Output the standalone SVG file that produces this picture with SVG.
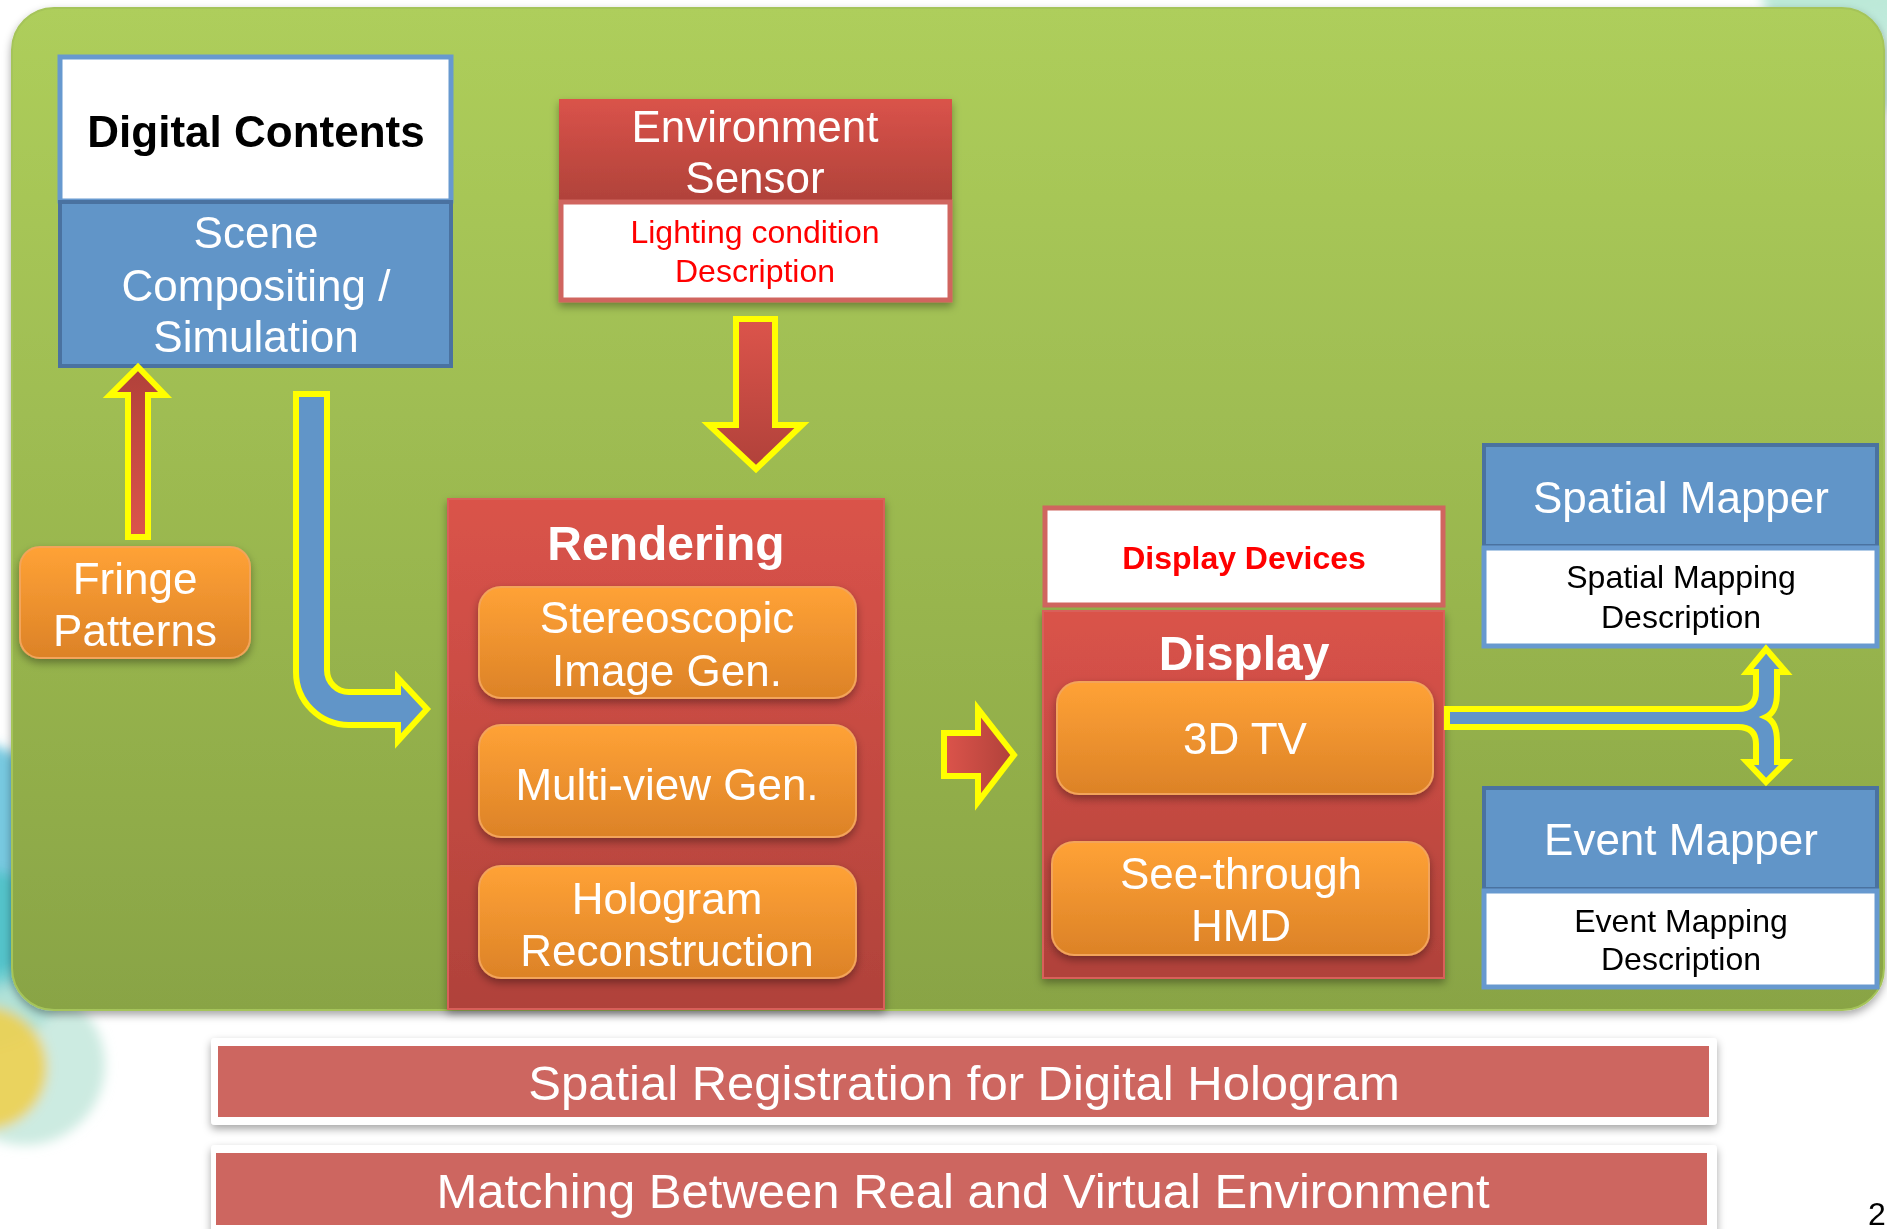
<svg xmlns="http://www.w3.org/2000/svg" width="1887" height="1229" viewBox="0 0 1887 1229">
<defs>
<linearGradient id="gGreen" x1="0" y1="0" x2="0" y2="1"><stop offset="0" stop-color="#AECE5B"/><stop offset="1" stop-color="#89A445"/></linearGradient>
<linearGradient id="gRed" x1="0" y1="0" x2="0" y2="1"><stop offset="0" stop-color="#DA534A"/><stop offset="1" stop-color="#B0423A"/></linearGradient>
<linearGradient id="gOrange" x1="0" y1="0" x2="0" y2="1"><stop offset="0" stop-color="#FFA236"/><stop offset="1" stop-color="#DC8227"/></linearGradient>
<linearGradient id="gArrUp" x1="0" y1="1" x2="0" y2="0"><stop offset="0" stop-color="#DC544B"/><stop offset="1" stop-color="#B0413A"/></linearGradient>
<linearGradient id="gArrDown" x1="0" y1="0" x2="0" y2="1"><stop offset="0" stop-color="#DC544B"/><stop offset="1" stop-color="#B0413A"/></linearGradient>
<linearGradient id="gArrRight" x1="0" y1="0" x2="1" y2="0"><stop offset="0" stop-color="#DC544B"/><stop offset="1" stop-color="#B0413A"/></linearGradient>
<filter id="shadow" x="-10%" y="-10%" width="120%" height="125%"><feDropShadow dx="0" dy="4" stdDeviation="4" flood-color="#000" flood-opacity="0.35"/></filter>
<filter id="blur" x="-50%" y="-50%" width="200%" height="200%"><feGaussianBlur stdDeviation="6"/></filter>
<style>
text{font-family:"Liberation Sans",Arial,sans-serif;text-anchor:middle}
.w44{fill:#fff;font-size:44px}
.wb48{fill:#fff;font-size:48px;font-weight:bold}
.k32{fill:#000;font-size:32px}
.r32{fill:#FF0000;font-size:32px}
.bar{fill:#fff;font-size:49px}
.orange{fill:url(#gOrange);stroke:#F3A45A;stroke-width:2}
.red{fill:url(#gRed)}
.blueHead{fill:#6195C8;stroke:#4A72A0;stroke-width:4}
.blueDesc{fill:#fff;stroke:#6799CF;stroke-width:5}
.redDesc{fill:#fff;stroke:#D0655F;stroke-width:5}
.arrow{stroke:#FFFF00;stroke-width:6;stroke-linejoin:miter}
</style>
</defs>

<!-- background decoration -->
<g id="background" filter="url(#blur)">
<circle cx="1835" cy="-20" r="75" fill="#9FDFC8" opacity="0.7"/>
<circle cx="1890" cy="60" r="50" fill="#BFE9DC" opacity="0.7"/>
<circle cx="-40" cy="860" r="120" fill="#55BCD8" opacity="0.8"/>
<circle cx="-20" cy="960" r="90" fill="#45C0C0" opacity="0.7"/>
<circle cx="25" cy="1065" r="80" fill="#BFE6DA" opacity="0.8"/>
<circle cx="-15" cy="1068" r="62" fill="#EDD050" opacity="0.9"/>
</g>

<g id="panel">
<rect x="12" y="8" width="1872" height="1002" rx="42" fill="url(#gGreen)" stroke="#A5C45A" stroke-width="2" filter="url(#shadow)"/>
</g>

<g id="digital-contents">
<rect x="60" y="57" width="391" height="144" fill="#fff" stroke="#6799CF" stroke-width="5"/>
<rect x="60" y="202" width="391" height="164" class="blueHead"/>
<text x="256" y="147" style="font-size:44px;font-weight:bold;fill:#000">Digital Contents</text>
<text class="w44" x="256" y="248">Scene</text>
<text class="w44" x="256" y="301">Compositing /</text>
<text class="w44" x="256" y="352">Simulation</text>
</g>

<g id="environment-sensor" filter="url(#shadow)">
<rect x="559" y="99" width="393" height="102" class="red"/>
<rect x="561" y="202" width="389" height="98" class="redDesc"/>
<text class="w44" x="755" y="142">Environment</text>
<text class="w44" x="755" y="193">Sensor</text>
<text class="r32" x="755" y="243">Lighting condition</text>
<text class="r32" x="755" y="282">Description</text>
</g>

<g id="fringe-patterns">
<rect x="20" y="547" width="230" height="111" rx="20" class="orange" filter="url(#shadow)"/>
<text class="w44" x="135" y="594">Fringe</text>
<text class="w44" x="135" y="646">Patterns</text>
</g>

<g id="rendering">
<rect x="448" y="499" width="436" height="510" class="red" stroke="#D8615A" stroke-width="2" filter="url(#shadow)"/>
<text class="wb48" x="666" y="560">Rendering</text>
<g id="stereoscopic">
<rect x="479" y="587" width="377" height="111" rx="22" class="orange" filter="url(#shadow)"/>
<text class="w44" x="667" y="633">Stereoscopic</text>
<text class="w44" x="667" y="686">Image Gen.</text>
</g>
<g id="multiview">
<rect x="479" y="725" width="377" height="112" rx="22" class="orange" filter="url(#shadow)"/>
<text class="w44" x="667" y="800">Multi-view Gen.</text>
</g>
<g id="hologram">
<rect x="479" y="866" width="377" height="112" rx="22" class="orange" filter="url(#shadow)"/>
<text class="w44" x="667" y="914">Hologram</text>
<text class="w44" x="667" y="966">Reconstruction</text>
</g>
</g>

<g id="display-devices">
<rect x="1045" y="508" width="398" height="97" class="redDesc"/>
<text x="1244" y="569" style="font-size:32px;font-weight:bold;fill:#FF0000">Display Devices</text>
</g>

<g id="display">
<rect x="1043" y="611" width="401" height="367" class="red" stroke="#D8615A" stroke-width="2" filter="url(#shadow)"/>
<text class="wb48" x="1244" y="670">Display</text>
<g id="tv3d">
<rect x="1057" y="682" width="376" height="112" rx="22" class="orange" filter="url(#shadow)"/>
<text class="w44" x="1245" y="754">3D TV</text>
</g>
<g id="hmd">
<rect x="1052" y="842" width="377" height="113" rx="22" class="orange" filter="url(#shadow)"/>
<text class="w44" x="1241" y="889">See-through</text>
<text class="w44" x="1241" y="941">HMD</text>
</g>
</g>

<g id="spatial-mapper">
<rect x="1484" y="445" width="393" height="101" class="blueHead"/>
<rect x="1484" y="548" width="393" height="98" class="blueDesc"/>
<text class="w44" x="1681" y="513">Spatial Mapper</text>
<text class="k32" x="1681" y="588">Spatial Mapping</text>
<text class="k32" x="1681" y="628">Description</text>
</g>

<g id="event-mapper">
<rect x="1484" y="788" width="393" height="101" class="blueHead"/>
<rect x="1484" y="891" width="393" height="96" class="blueDesc"/>
<text class="w44" x="1681" y="855">Event Mapper</text>
<text class="k32" x="1681" y="932">Event Mapping</text>
<text class="k32" x="1681" y="970">Description</text>
</g>

<g id="connectors">
<path class="arrow" fill="url(#gArrUp)" d="M128 537 L148 537 L148 395 L165 395 L138 367 L110 395 L128 395 Z"/>
<path class="arrow" fill="#6195C8" stroke-width="5" d="M296 394 L327 394 L327 670 A22 22 0 0 0 349 692 L398 692 L398 678 L427 709 L398 741 L398 725 L349 725 A53 53 0 0 1 296 672 Z"/>
<path class="arrow" fill="url(#gArrDown)" d="M736 319 L775 319 L775 425 L802 425 L756 469 L709 425 L736 425 Z"/>
<path class="arrow" fill="url(#gArrRight)" d="M944 733 L978 733 L978 709 L1014 755 L978 802 L978 776 L944 776 Z"/>
<path class="arrow" fill="#6195C8" stroke-width="5" d="M1447 709 L1738 709 Q1756 709 1756 691 L1756 672 L1747 672 L1766 649 L1786 672 L1777 672 L1777 693 Q1777 712 1766 717 Q1777 722 1777 741 L1777 762 L1786 762 L1766 782 L1747 762 L1756 762 L1756 744 Q1756 727 1738 727 L1447 727 Z"/>
</g>

<g id="spatial-registration">
<rect x="211" y="1038" width="1506" height="87" rx="4" fill="#fff" filter="url(#shadow)"/>
<rect x="218" y="1046" width="1491" height="71" fill="#CD6660"/>
<text class="bar" x="964" y="1100">Spatial Registration for Digital Hologram</text>
</g>

<g id="matching">
<rect x="211" y="1145" width="1506" height="95" rx="4" fill="#fff" filter="url(#shadow)"/>
<rect x="216" y="1153" width="1491" height="72" fill="#CD6660"/>
<text class="bar" x="963" y="1208">Matching Between Real and Virtual Environment</text>
</g>

<text x="1868" y="1225" style="font-size:32px;fill:#000;text-anchor:start">2</text>
</svg>
